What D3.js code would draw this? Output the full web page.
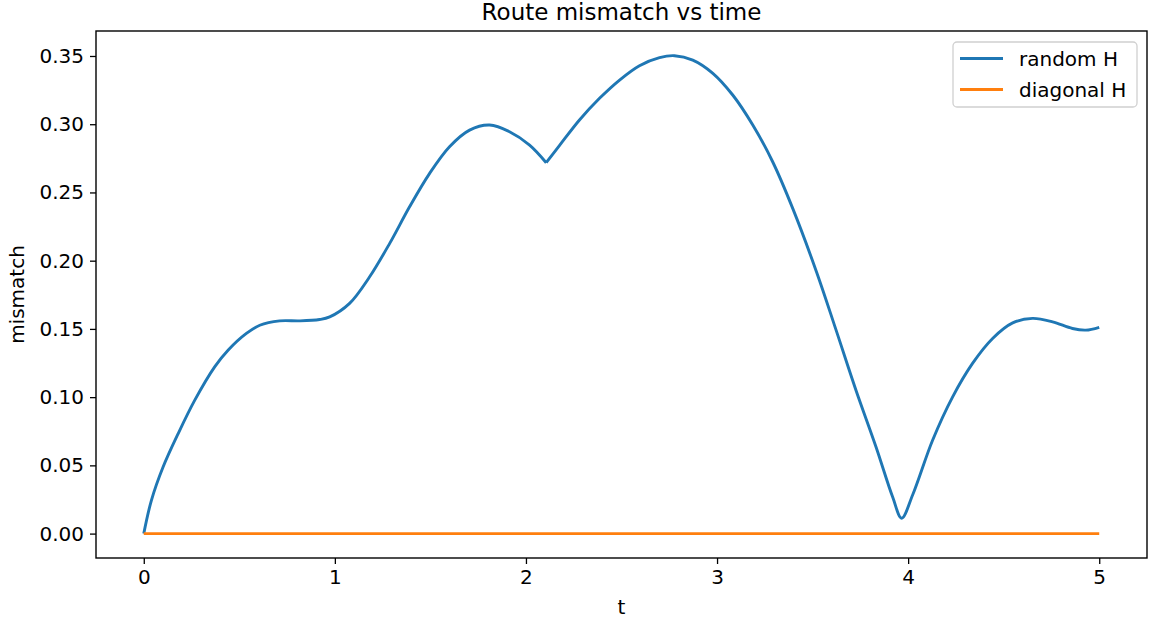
<!DOCTYPE html>
<html><head><meta charset="utf-8">
<script src="https://cdn.jsdelivr.net/npm/d3@7"></script>
<style>body{margin:0;background:#fff}svg{font-family:"DejaVu Sans",sans-serif}</style>
</head><body><svg id="c" width="1151" height="621"></svg>
<script>
const title = "Route mismatch vs time";
const xLabel = "t";
const yLabel = "mismatch";
const seriesNames = ["random H", "diagonal H"];
const seriesColors = ["#1f77b4", "#ff7f0e"];
const xTicks = [0, 1, 2, 3, 4, 5];
const yTicks = [0.00, 0.05, 0.10, 0.15, 0.20, 0.25, 0.30, 0.35];

const randomT = [0, 0.040, 0.101, 0.18, 0.267, 0.371, 0.441, 0.537, 0.607, 0.711, 0.816, 0.92, 0.973, 1.077, 1.182, 1.287, 1.391, 1.496, 1.6, 1.705, 1.81, 1.914, 2.019, 2.106, 2.176, 2.28, 2.385, 2.49, 2.594, 2.699, 2.777, 2.873, 2.978, 3.082, 3.187, 3.291, 3.396, 3.522, 3.623, 3.727, 3.832, 3.919, 3.966, 4.024, 4.128, 4.233, 4.337, 4.442, 4.547, 4.651, 4.756, 4.86, 4.93, 5.0];
const randomV = [0, 0.0244, 0.0488, 0.0733, 0.0978, 0.1222, 0.1344, 0.1467, 0.1527, 0.1559, 0.1559, 0.1569, 0.1588, 0.1687, 0.1882, 0.2127, 0.2395, 0.264, 0.2835, 0.2957, 0.2994, 0.2945, 0.2847, 0.2718, 0.2845, 0.3031, 0.319, 0.3324, 0.3429, 0.3488, 0.3502, 0.347, 0.3373, 0.3214, 0.2994, 0.2725, 0.2383, 0.1912, 0.1491, 0.1051, 0.0635, 0.0268, 0.0113, 0.0285, 0.0684, 0.1002, 0.1247, 0.143, 0.1544, 0.1577, 0.1552, 0.1503, 0.1491, 0.1512];
const randomCuspT = 2.106;
const diagonalT = [0, 5];
const diagonalV = [0, 0];

const svg = d3.select("#c");
const L = 96, R = 1147, T = 31, B = 558;
const x = d3.scaleLinear().domain([-0.25, 5.25]).range([L, R]);
const y = d3.scaleLinear().domain([-0.01788, 0.36831]).range([B, T]);

// lines
const line = d3.line().x(d => x(d[0])).y(d => y(d[1])).curve(d3.curveCatmullRom.alpha(0.5));
const randomPts = d3.zip(randomT, randomV);
const randomSegs = [randomPts.filter(d => d[0] <= randomCuspT), randomPts.filter(d => d[0] >= randomCuspT)];
randomSegs.forEach(s => {
  svg.append("path").datum(s).attr("d", line).attr("fill", "none")
    .attr("stroke", seriesColors[0]).attr("stroke-width", 2.9)
    .attr("stroke-linecap", "butt").attr("stroke-linejoin", "round");
});
svg.append("path").datum(d3.zip(diagonalT, diagonalV)).attr("d", line).attr("fill", "none")
  .attr("stroke", seriesColors[1]).attr("stroke-width", 2.9).attr("stroke-linecap", "butt");

// axes
const xAxis = d3.axisBottom(x).tickValues(xTicks).tickFormat(d3.format("d")).tickSize(6).tickPadding(6);
const yAxis = d3.axisLeft(y).tickValues(yTicks).tickFormat(d3.format(".2f")).tickSize(6).tickPadding(6);
const gx = svg.append("g").attr("transform", `translate(0,${B})`).call(xAxis);
const gy = svg.append("g").attr("transform", `translate(${L},0)`).call(yAxis);
[gx, gy].forEach(g => {
  g.select(".domain").remove();
  g.selectAll(".tick line").attr("stroke", "#000").attr("stroke-width", 1.3);
  g.selectAll(".tick text").attr("fill", "#000").style("font-size", "20px").style("font-family", "DejaVu Sans");
});

// frame
svg.append("rect").attr("x", L).attr("y", T).attr("width", R - L).attr("height", B - T)
  .attr("fill", "none").attr("stroke", "#000").attr("stroke-width", 1.4);

// title & labels
svg.append("text").attr("x", (L + R) / 2).attr("y", 20).attr("text-anchor", "middle")
  .style("font-size", "23px").text(title);
svg.append("text").attr("x", (L + R) / 2).attr("y", 614).attr("text-anchor", "middle")
  .style("font-size", "20px").text(xLabel);
svg.append("text").attr("transform", `translate(24,${(T + B) / 2}) rotate(-90)`).attr("text-anchor", "middle")
  .style("font-size", "20px").text(yLabel);

// legend
const lg = svg.append("g");
lg.append("rect").attr("x", 953).attr("y", 42).attr("width", 184).attr("height", 65).attr("rx", 4)
  .attr("fill", "#fff").attr("fill-opacity", 0.8).attr("stroke", "#d0d0d0").attr("stroke-width", 1.3);
seriesNames.forEach((n, i) => {
  const yy = 58.5 + i * 31;
  lg.append("line").attr("x1", 960).attr("x2", 1003).attr("y1", yy).attr("y2", yy)
    .attr("stroke", seriesColors[i]).attr("stroke-width", 2.9);
  lg.append("text").attr("x", 1019).attr("y", yy + 7).style("font-size", "20px").text(n);
});
</script></body></html>
